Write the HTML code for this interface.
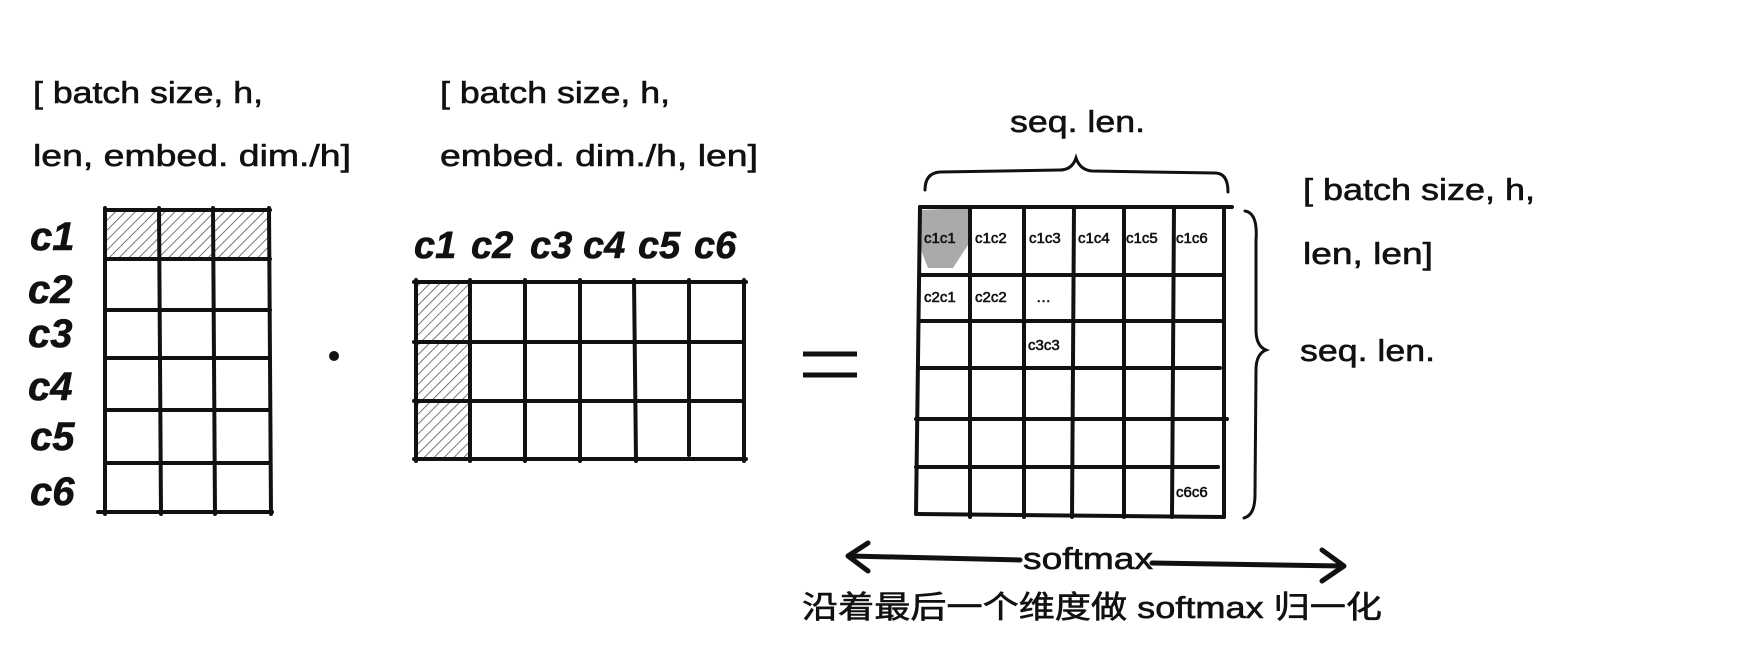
<!DOCTYPE html>
<html><head><meta charset="utf-8"><style>
html,body{margin:0;padding:0;background:#fff;}
svg{display:block;}
text{font-family:"Liberation Sans","Noto Sans CJK SC",sans-serif;fill:#111;stroke:#111;stroke-width:0.6;}
.hw{font-family:"Liberation Serif",serif;font-style:italic;font-weight:bold;}
</style></head><body>
<svg width="1738" height="660" viewBox="0 0 1738 660" xmlns="http://www.w3.org/2000/svg">
<defs>
<pattern id="hat" width="7" height="7" patternUnits="userSpaceOnUse" patternTransform="rotate(45)">
<line x1="0" y1="0" x2="0" y2="7" stroke="#555" stroke-width="1.6"/>
</pattern>
</defs>
<g font-size="31">
<text x="33" y="103" textLength="230" lengthAdjust="spacingAndGlyphs">[ batch size, h,</text>
<text x="33" y="166" textLength="318" lengthAdjust="spacingAndGlyphs">len, embed. dim./h]</text>
<text x="440" y="103" textLength="230" lengthAdjust="spacingAndGlyphs">[ batch size, h,</text>
<text x="440" y="166" textLength="318" lengthAdjust="spacingAndGlyphs">embed. dim./h, len]</text>
<text x="1010" y="132" textLength="135" lengthAdjust="spacingAndGlyphs">seq. len.</text>
<text x="1303" y="200" textLength="232" lengthAdjust="spacingAndGlyphs">[ batch size, h,</text>
<text x="1303" y="264" textLength="130" lengthAdjust="spacingAndGlyphs">len, len]</text>
<text x="1300" y="361" textLength="135" lengthAdjust="spacingAndGlyphs">seq. len.</text>
</g>
<!-- left grid -->
<rect x="105" y="210" width="165" height="49" fill="url(#hat)"/>
<g stroke="#111" stroke-width="4" fill="none" stroke-linecap="round">
<line x1="105" y1="210" x2="270" y2="210"/><line x1="105" y1="259" x2="270" y2="259"/>
<line x1="105" y1="310" x2="270" y2="310"/><line x1="105" y1="358" x2="270" y2="358"/>
<line x1="105" y1="410" x2="270" y2="410"/><line x1="105" y1="463" x2="270" y2="463"/>
<line x1="98" y1="512" x2="272" y2="512"/>
<line x1="105" y1="208" x2="105" y2="514"/><line x1="159" y1="208" x2="161" y2="514"/>
<line x1="213" y1="208" x2="215" y2="514"/><line x1="269" y1="208" x2="271" y2="514"/>
</g>
<g class="hw" font-size="40">
<text x="30" y="250">c1</text><text x="28" y="303">c2</text><text x="28" y="347">c3</text>
<text x="28" y="400">c4</text><text x="30" y="450">c5</text><text x="30" y="505">c6</text>
</g>
<circle cx="334" cy="356" r="5" fill="#111"/>
<!-- middle grid -->
<rect x="416" y="282" width="54" height="177" fill="url(#hat)"/>
<g stroke="#111" stroke-width="4" fill="none" stroke-linecap="round">
<line x1="414" y1="282" x2="746" y2="282"/><line x1="414" y1="342" x2="744" y2="342"/>
<line x1="414" y1="401" x2="744" y2="401"/><line x1="414" y1="459" x2="746" y2="459"/>
<line x1="416" y1="280" x2="416" y2="461"/><line x1="470" y1="280" x2="470" y2="461"/>
<line x1="525" y1="280" x2="525" y2="461"/><line x1="580" y1="280" x2="580" y2="461"/>
<line x1="634" y1="280" x2="636" y2="461"/><line x1="689" y1="280" x2="689" y2="455"/>
<line x1="744" y1="280" x2="744" y2="461"/>
</g>
<g class="hw" font-size="38">
<text x="414" y="258">c1</text><text x="471" y="258">c2</text><text x="530" y="258">c3</text>
<text x="583" y="258">c4</text><text x="638" y="258">c5</text><text x="694" y="258">c6</text>
</g>
<g stroke="#111" stroke-width="5"><line x1="803" y1="354" x2="857" y2="354"/><line x1="803" y1="375" x2="857" y2="375"/></g>
<!-- right grid -->
<path d="M921 210 L968 208 L968 245 L953 268 L928 268 L921 250 Z" fill="#aaa"/>
<g stroke="#111" stroke-width="4" fill="none" stroke-linecap="round">
<line x1="920" y1="207" x2="1232" y2="207"/><line x1="920" y1="275" x2="1224" y2="275"/>
<line x1="920" y1="321" x2="1224" y2="321"/><line x1="918" y1="368" x2="1220" y2="368"/>
<line x1="916" y1="419" x2="1227" y2="419"/><line x1="916" y1="467" x2="1218" y2="467"/>
<line x1="918" y1="514" x2="1224" y2="517"/>
<line x1="920" y1="207" x2="916" y2="514"/><line x1="970" y1="207" x2="970" y2="517"/>
<line x1="1024" y1="207" x2="1024" y2="517"/><line x1="1074" y1="207" x2="1072" y2="517"/>
<line x1="1124" y1="207" x2="1124" y2="517"/><line x1="1174" y1="207" x2="1172" y2="517"/>
<line x1="1224" y1="207" x2="1224" y2="517"/>
<path d="M925 190 Q925 173 940 172 L1060 170 Q1072 170 1076 158 Q1080 170 1092 171 L1215 173 Q1228 173 1228 192" stroke-width="3"/>
<path d="M1245 211 Q1258 213 1256 240 L1256 330 Q1256 346 1266 350 Q1256 354 1256 370 L1255 495 Q1255 515 1244 518" stroke-width="3"/>
</g>
<g font-size="15">
<text x="924" y="243">c1c1</text><text x="975" y="243">c1c2</text><text x="1029" y="243">c1c3</text>
<text x="1078" y="243">c1c4</text><text x="1126" y="243">c1c5</text><text x="1176" y="243">c1c6</text>
<text x="924" y="302">c2c1</text><text x="975" y="302">c2c2</text><text x="1036" y="302">…</text>
<text x="1028" y="350">c3c3</text><text x="1176" y="497">c6c6</text>
</g>
<!-- softmax arrow -->
<g stroke="#111" stroke-width="5" fill="none" stroke-linecap="round" stroke-linejoin="round">
<line x1="850" y1="556" x2="1020" y2="560"/><line x1="1152" y1="563" x2="1342" y2="566"/>
<path d="M868 543 L848 556 L868 571"/><path d="M1322 550 L1344 566 L1322 581"/>
</g>
<text x="1023" y="569" font-size="31" textLength="130" lengthAdjust="spacingAndGlyphs">softmax</text>
<text x="802" y="618" font-size="31" textLength="580" lengthAdjust="spacingAndGlyphs">沿着最后一个维度做 softmax 归一化</text>
</svg>
</body></html>
